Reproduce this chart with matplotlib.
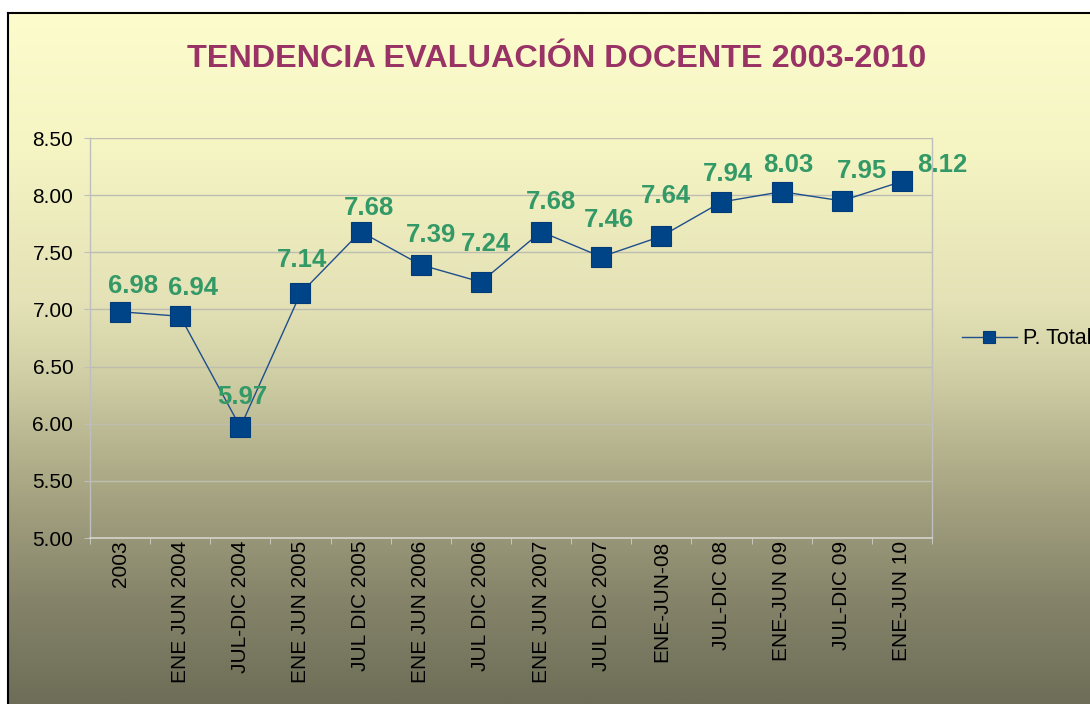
import matplotlib
matplotlib.use('Agg')
import matplotlib.pyplot as plt
import numpy as np
from matplotlib.colors import LinearSegmentedColormap
from matplotlib.lines import Line2D

# ---------------- data ----------------
categories = ["2003", "ENE JUN 2004", "JUL-DIC 2004", "ENE JUN 2005", "JUL DIC 2005",
              "ENE JUN 2006", "JUL DIC 2006", "ENE JUN 2007", "JUL DIC 2007",
              "ENE-JUN-08", "JUL-DIC 08", "ENE-JUN 09", "JUL-DIC 09", "ENE-JUN 10"]
values = [6.98, 6.94, 5.97, 7.14, 7.68, 7.39, 7.24, 7.68, 7.46, 7.64, 7.94, 8.03, 7.95, 8.12]
series_name = "P. Total"
title_text = "TENDENCIA EVALUACIÓN DOCENTE 2003-2010"
y_ticks = [5.00, 5.50, 6.00, 6.50, 7.00, 7.50, 8.00, 8.50]

# label nudges (pixels: right, up) relative to each marker
label_nudges = [(13, 19), (12.5, 21.5), (2, 23), (2, 26), (8, 17), (10, 23), (5, 31),
                (10, 23), (8, 30), (4.5, 33), (6, 21), (6.5, 20), (20, 23), (40, 9)]

plt.rcParams['font.family'] = ['Liberation Sans', 'DejaVu Sans']

W, H = 1090, 704
fig = plt.figure(figsize=(W / 100, H / 100), dpi=100)
fig.patch.set_facecolor('white')

# ---------------- gradient background ----------------
stops_px = [13, 150, 300, 370, 500, 600, 704]
stop_cols = ['#FCFCCC', '#F5F4C3', '#E4E2B6', '#D2D0A6', '#A4A280', '#85846A', '#6E6E58']
pos = [(p - 13) / (704 - 13) for p in stops_px]
cmap = LinearSegmentedColormap.from_list('bg', list(zip(pos, stop_cols)))
bg = fig.add_axes([8 / W, 0, 1 - 8 / W, (H - 13) / H], zorder=0)
grad = np.linspace(0, 1, 600).reshape(-1, 1)
bg.imshow(grad, aspect='auto', cmap=cmap, extent=[0, 1, 0, 1], origin='upper')
bg.axis('off')

fig.add_artist(Line2D([8 / W, 8 / W], [0, (H - 13) / H], color='black', lw=1.5,
                      transform=fig.transFigure, zorder=5))
fig.add_artist(Line2D([8 / W, 1], [(H - 13) / H, (H - 13) / H], color='black', lw=1.5,
                      transform=fig.transFigure, zorder=5))

# ---------------- main axes ----------------
ax = fig.add_axes([90 / W, (H - 538) / H, (932 - 90) / W, 400 / H], zorder=2)
ax.set_facecolor('none')

x = np.arange(len(categories))
line, = ax.plot(x, values, color='#1F4E8C', lw=1.0, marker='s', markersize=14.4,
                markerfacecolor='#004488', markeredgecolor='#003A78', markeredgewidth=0.8,
                label=series_name, zorder=3, clip_on=False)

ax.set_xlim(-0.5, len(categories) - 0.5)
ax.set_ylim(y_ticks[0], y_ticks[-1])
ax.set_yticks(y_ticks)
ax.set_yticklabels([f"{t:.2f}" for t in y_ticks], fontsize=15)
ax.set_xticks(x)
ax.set_xticklabels(categories, rotation=90, va='top', ha='center', fontsize=15)
ax.set_xticks(np.arange(-0.5, len(categories), 1), minor=True)
ax.tick_params(axis='x', which='major', length=0, pad=2)
ax.tick_params(axis='x', which='minor', length=4, color='#D0D0C8', direction='out')
ax.tick_params(axis='y', which='major', length=4, color='#BEBEBE', direction='out', pad=8)

ax.grid(axis='y', color='#BDBDB0', lw=1.0, zorder=1)
ax.set_axisbelow(True)
for s in ['left', 'right']:
    ax.spines[s].set_color('#BEBEBE')
    ax.spines[s].set_linewidth(1.0)
ax.spines['bottom'].set_color('#D4D4CC')
ax.spines['bottom'].set_linewidth(1.2)
ax.spines['top'].set_visible(False)

for i, v in enumerate(values):
    dx, dy = label_nudges[i]
    ax.annotate(f"{v:.2f}", (i, v), xytext=(dx * 0.72, dy * 0.72), textcoords='offset points',
                ha='center', va='baseline', fontsize=18.5, fontweight='bold',
                color='#339966', annotation_clip=False, zorder=4)

# ---------------- title ----------------
fig.text(557 / W, 1 - 67 / H, title_text, ha='center', va='baseline', fontsize=23.3,
         fontweight='bold', color='#993366')

# ---------------- legend ----------------
fig.legend(handles=[line], labels=[series_name], loc='center left',
           bbox_to_anchor=(962 / W, 1 - 339 / H), frameon=False, fontsize=15.5,
           handlelength=2.55, handletextpad=0.3, borderpad=0, borderaxespad=0,
           markerscale=0.6)

fig.savefig('out.png', dpi=100, facecolor='white')
